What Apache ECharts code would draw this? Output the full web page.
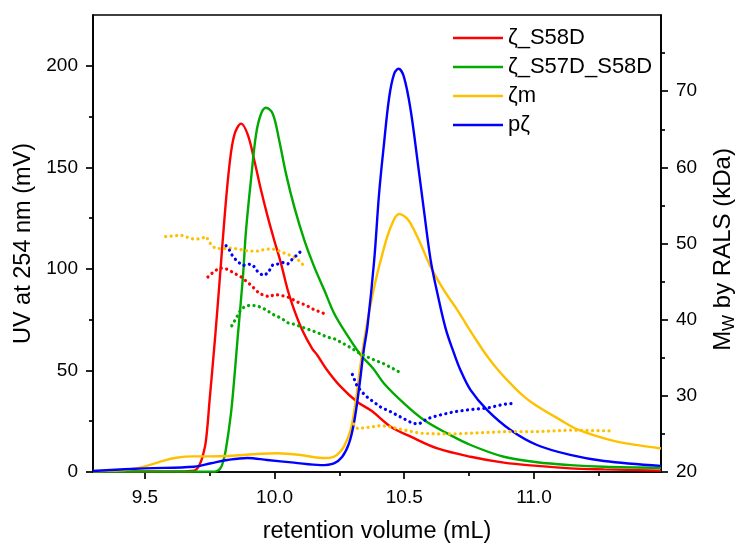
<!DOCTYPE html>
<html>
<head>
<meta charset="utf-8">
<title>SEC-RALS</title>
<script src="https://cdn.jsdelivr.net/npm/echarts@6/dist/echarts.min.js"></script>
<style>
  html, body { margin: 0; padding: 0; background: #fff; }
  #chart { width: 738px; height: 544px; }
</style>
</head>
<body>
<div id="chart"></div>
<script>
// UV traces (left axis, mV) as [retention volume (mL), signal]
const uvS58D = [
  [9.30, 0.3], [9.50, 0.3], [9.66, 0.4], [9.69, 0.6], [9.70, 1.5], [9.71, 3.4], [9.72, 6.5],
  [9.735, 15], [9.75, 36], [9.77, 65], [9.79, 97], [9.807, 125], [9.826, 151], [9.845, 166],
  [9.871, 171.5], [9.897, 166], [9.922, 153.4], [9.948, 138.7], [9.974, 125.5], [9.999, 114],
  [10.025, 102.6], [10.051, 89.5], [10.076, 79.7], [10.107, 69.8], [10.145, 60.8], [10.165, 57.5],
  [10.203, 50.1], [10.255, 42], [10.318, 34.6], [10.375, 30], [10.448, 22.3], [10.525, 17.4],
  [10.628, 11.6], [10.756, 7.5], [10.884, 4.6], [11.012, 3], [11.14, 1.8], [11.27, 1.3], [11.49, 0.7]
];
const uvS57DS58D = [
  [9.30, 0.2], [9.77, 0.2], [9.78, 0.6], [9.79, 1.6], [9.80, 4.3], [9.812, 10.8], [9.832, 28.9],
  [9.844, 45], [9.857, 65], [9.878, 96], [9.89, 119], [9.91, 145], [9.929, 166.5], [9.948, 176.4],
  [9.967, 179.3], [9.993, 176.4], [10.018, 163.2], [10.044, 146.9], [10.076, 130.5], [10.115, 114],
  [10.153, 101], [10.192, 89.5], [10.23, 78], [10.267, 70], [10.33, 58], [10.38, 51], [10.422, 43.6],
  [10.499, 33.8], [10.576, 25.6], [10.666, 19], [10.756, 13.3], [10.884, 7.5], [11.012, 4.8],
  [11.14, 3.4], [11.27, 2.6], [11.49, 2.1]
];
const uvZm = [
  [9.30, 0.5], [9.40, 0.8], [9.45, 1.5], [9.50, 2.8], [9.56, 5.1], [9.62, 7], [9.69, 7.7],
  [9.75, 7.7], [9.82, 7.9], [9.88, 8.4], [9.95, 9], [10.01, 9.2], [10.10, 8.4], [10.17, 7],
  [10.21, 6.9], [10.24, 8.4], [10.267, 12.4], [10.293, 20.7], [10.312, 33.8], [10.332, 53.4],
  [10.352, 69.8], [10.384, 91], [10.416, 107.5], [10.448, 120.6], [10.48, 127], [10.512, 124.7],
  [10.551, 115.7], [10.602, 101], [10.653, 89.5], [10.705, 79.7], [10.74, 72.5], [10.78, 64.5],
  [10.82, 57], [10.86, 50.5], [10.91, 43.5], [10.95, 38.5], [11.0, 33.5], [11.1, 25.8],
  [11.17, 20.9], [11.3, 15.6], [11.4, 13.2], [11.49, 11.6]
];
const uvPz = [
  [9.30, 0.5], [9.50, 1.8], [9.69, 2.6], [9.755, 4.3], [9.818, 5.9], [9.895, 6.9], [9.972, 5.9],
  [10.075, 4.6], [10.178, 3.4], [10.229, 4.3], [10.261, 7.5], [10.287, 14.1], [10.306, 24],
  [10.325, 40.3], [10.344, 60], [10.358, 71.4], [10.384, 104], [10.403, 137], [10.422, 161.6],
  [10.442, 184.5], [10.461, 196], [10.478, 198.5], [10.499, 194.4], [10.525, 178], [10.551, 153.4],
  [10.576, 128.8], [10.602, 104.2], [10.628, 87.9], [10.66, 70.5], [10.692, 58.4], [10.717, 50.1],
  [10.756, 40.3], [10.82, 30.5], [10.91, 20.7], [11.012, 13.3], [11.14, 8.4], [11.27, 5.4], [11.49, 3]
];

// Molar mass from RALS (right axis, kDa); null splits a trace into separate peaks
const mwS58D = [
  [9.743, 45.6], [9.762, 46.2], [9.788, 46.8], [9.82, 46.6], [9.845, 46.1], [9.871, 45.6],
  [9.897, 44.9], [9.922, 44.1], [9.942, 43.4], [9.961, 43.2], [9.98, 43.0], [9.999, 43.3],
  [10.025, 43.2], [10.057, 42.9], [10.089, 42.3], [10.121, 41.9], [10.153, 41.3], [10.185, 40.9],
  [10.205, 40.5]
];
const mwS57DS58D = [
  [9.835, 39.2], [9.852, 40.2], [9.871, 41.4], [9.89, 41.8], [9.91, 41.9], [9.935, 41.8],
  [9.967, 41.3], [9.993, 40.7], [10.025, 40.2], [10.051, 39.6], [10.076, 39.4], [10.115, 38.9],
  [10.166, 38.3], [10.203, 37.7], [10.23, 37.5], [10.28, 36.6], [10.332, 35.5], [10.378, 34.8],
  [10.422, 34.2], [10.461, 33.5], [10.493, 32.9]
];
const mwZm = [
  [9.58, 50.9], [9.61, 51.0], [9.64, 51.1], [9.665, 50.8], [9.685, 50.6], [9.71, 50.6],
  [9.737, 50.9], [9.75, 50.1], [9.77, 49.4], [9.80, 49.3], [9.835, 49.4], [9.87, 49.2],
  [9.90, 49.0], [9.935, 49.0], [9.96, 49.2], [9.99, 49.3], [10.02, 49.0], [10.04, 48.7],
  [10.065, 48.4], [10.09, 47.9], [10.11, 47.2],
  null,
  [10.305, 26.3], [10.32, 25.7], [10.37, 25.9], [10.41, 26.1], [10.45, 25.9], [10.50, 25.5],
  [10.56, 25.1], [10.63, 25.0], [10.69, 25.0], [10.76, 25.1], [10.88, 25.3], [11.01, 25.3],
  [11.14, 25.5], [11.29, 25.4]
];
const mwPz = [
  [9.813, 49.7], [9.825, 49.2], [9.839, 48.3], [9.858, 47.6], [9.878, 47.1], [9.897, 47.3],
  [9.916, 47.2], [9.935, 46.3], [9.955, 45.8], [9.974, 46.1], [9.993, 47.2], [10.012, 47.3],
  [10.032, 47.5], [10.051, 47.3], [10.07, 48.0], [10.087, 48.5], [10.102, 49.0],
  null,
  [10.30, 32.8], [10.318, 31.3], [10.332, 30.7], [10.351, 30.0], [10.37, 29.5], [10.41, 28.5],
  [10.448, 27.9], [10.487, 27.2], [10.532, 26.4], [10.557, 26.3], [10.589, 27.0], [10.628, 27.4],
  [10.692, 27.9], [10.756, 28.2], [10.82, 28.4], [10.884, 28.9], [10.916, 29.0]
];

const sampleNames = ['ζ_S58D', 'ζ_S57D_S58D', 'ζm', 'pζ'];
const sampleColors = ['#ff0000', '#00aa00', '#ffc000', '#0000ff'];
const uvTraces = [uvS58D, uvS57DS58D, uvZm, uvPz];
const mwTraces = [mwS58D, mwS57DS58D, mwZm, mwPz];

// Axis ticks
const xMajor = [9.5, 10.0, 10.5, 11.0];
const xMinor = [9.75, 10.25, 10.75, 11.25];
const uvMajor = [0, 50, 100, 150, 200];
const uvMinor = [25, 75, 125, 175];
const mwMajor = [20, 30, 40, 50, 60, 70];
const mwMinor = [25, 35, 45, 55, 65, 75];

const FONT = 'Liberation Sans, Arial, sans-serif';
const AXW = 1.7;
const AX = { lineStyle: { color: '#000', width: AXW } };

function minorAxis(base) {
  return Object.assign({
    type: 'value',
    axisLine: { show: false },
    axisLabel: { show: false },
    splitLine: { show: false }
  }, base);
}

const series = [];
uvTraces.forEach((d, i) => {
  series.push({
    name: sampleNames[i], type: 'line', data: d, xAxisIndex: 0, yAxisIndex: 0,
    showSymbol: false, symbol: 'none', smooth: 0.35, sampling: null,
    lineStyle: { color: sampleColors[i], width: 2.4 }, itemStyle: { color: sampleColors[i] },
    z: 2
  });
});
mwTraces.forEach((d, i) => {
  series.push({
    name: sampleNames[i] + ' Mw', type: 'line', data: d, xAxisIndex: 0, yAxisIndex: 1,
    showSymbol: false, symbol: 'none', connectNulls: false,
    lineStyle: { color: sampleColors[i], width: 3.2, type: [0.1, 5.4], cap: 'round' },
    z: 3
  });
});

const chart = echarts.init(document.getElementById('chart'), null, { renderer: 'canvas' });
chart.setOption({
  animation: false,
  backgroundColor: '#fff',
  textStyle: { fontFamily: FONT, color: '#000' },
  grid: {
    left: 93, right: 77, top: 15, bottom: 72, outerBoundsMode: 'none', containLabel: false,
    show: true, borderColor: '#000', borderWidth: AXW
  },
  legend: {
    data: sampleNames, orient: 'vertical', left: 453, top: 27, padding: 0, itemGap: 7,
    icon: 'rect', itemWidth: 50, itemHeight: 2.4,
    textStyle: { fontFamily: FONT, fontSize: 22, color: '#000' }
  },
  xAxis: [
    {
      type: 'value', min: 9.3, max: 11.49, position: 'bottom',
      axisLine: AX,
      axisTick: { customValues: xMajor, length: 7, lineStyle: { color: '#000', width: AXW } },
      axisLabel: { customValues: xMajor, margin: 16, fontSize: 19, color: '#000', fontFamily: FONT,
        formatter: v => v.toFixed(1) },
      splitLine: { show: false },
      name: 'retention volume (mL)', nameLocation: 'middle', nameGap: 48,
      nameTextStyle: { fontSize: 23.5, color: '#000', fontFamily: FONT }
    },
    minorAxis({ min: 9.3, max: 11.49, position: 'bottom',
      axisTick: { customValues: xMinor, length: 4, lineStyle: { color: '#000', width: AXW } } })
  ],
  yAxis: [
    {
      type: 'value', min: 0, max: 225, interval: 25, position: 'left',
      axisLine: AX,
      axisTick: { customValues: uvMajor, length: 7, lineStyle: { color: '#000', width: AXW } },
      axisLabel: { customValues: uvMajor, margin: 15, fontSize: 19, color: '#000', fontFamily: FONT },
      splitLine: { show: false },
      name: 'UV at 254 nm (mV)', nameLocation: 'middle', nameGap: 55,
      nameTextStyle: { fontSize: 23.5, color: '#000', fontFamily: FONT }
    },
    {
      type: 'value', min: 20, max: 80, interval: 10, position: 'right',
      axisLine: AX,
      axisTick: { customValues: mwMajor, length: 7, lineStyle: { color: '#000', width: AXW } },
      axisLabel: { customValues: mwMajor, margin: 15, fontSize: 19, color: '#000', fontFamily: FONT },
      splitLine: { show: false },
      name: '{m|M}{w|W}{m| by RALS (kDa)}', nameLocation: 'middle', nameGap: 47,
      nameTextStyle: {
        fontFamily: FONT, color: '#000', padding: [0, 12, 0, 0],
        rich: {
          m: { fontSize: 24, fontFamily: FONT, color: '#000', lineHeight: 30, verticalAlign: 'middle' },
          w: { fontSize: 17, fontFamily: FONT, color: '#000', lineHeight: 17, verticalAlign: 'bottom' }
        }
      }
    },
    minorAxis({ min: 0, max: 225, position: 'left',
      axisTick: { customValues: uvMinor, length: 4, lineStyle: { color: '#000', width: AXW } } }),
    minorAxis({ min: 20, max: 80, position: 'right',
      axisTick: { customValues: mwMinor, length: 4, lineStyle: { color: '#000', width: AXW } } })
  ],
  series: series
});
</script>
</body>
</html>
